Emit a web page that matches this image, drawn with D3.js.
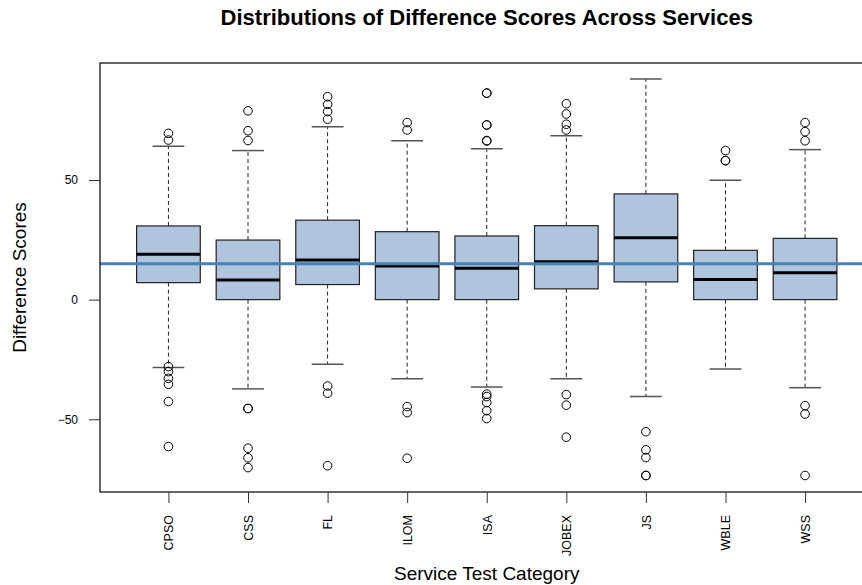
<!DOCTYPE html>
<html>
<head>
<meta charset="utf-8">
<script src="https://cdn.jsdelivr.net/npm/d3@7"></script>
<style>
  html, body { margin: 0; padding: 0; background: #fff; }
  svg { display: block; font-family: "Liberation Sans", Arial, Helvetica, sans-serif; }
</style>
</head>
<body>
<svg id="chart" width="862" height="585"></svg>
<script>
// ---- data ----
const categories = ["CPSO", "CSS", "FL", "ILOM", "ISA", "JOBEX", "JS", "WBLE", "WSS"];
const lowerWhisker = [-28.4, -37.3, -27.0, -33.1, -36.5, -33.1, -40.5, -29.0, -36.8];
const q1Values     = [7.1, 0, 6.3, 0, 0, 4.5, 7.4, 0, 0];
const medianValues = [19.0, 8.2, 16.6, 14.1, 13.1, 15.8, 25.9, 8.4, 11.2];
const q3Values     = [30.8, 24.9, 33.2, 28.4, 26.6, 30.9, 44.2, 20.6, 25.6];
const upperWhisker = [64.1, 62.3, 72.3, 66.4, 63.1, 68.5, 92.2, 49.9, 62.7];
const outlierValues = [
  [69.5, 66.7, -28.0, -30.1, -32.9, -35.4, -42.6, -61.4],
  [78.9, 70.6, 66.5, -45.5, -45.5, -62.1, -66.1, -70.2],
  [84.8, 81.6, 78.6, 75.4, -36.1, -39.1, -69.4],
  [74.0, 70.9, -44.7, -47.2, -66.3],
  [86.3, 86.3, 73.0, 73.0, 66.5, 66.3, -39.5, -40.5, -43.0, -46.4, -49.7],
  [81.9, 77.6, 73.3, 70.9, -39.7, -44.1, -57.5],
  [-55.2, -62.8, -66.0, -73.5, -73.5],
  [62.3, 58.1, 58.1],
  [74.0, 70.2, 66.4, -44.3, -47.8, -73.5]
];
const referenceLine = 15;
const yTickValues = [-50, 0, 50];
const titleText = "Distributions of Difference Scores Across Services";
const xTitle = "Service Test Category";
const yTitle = "Difference Scores";

// ---- layout ----
const svg = d3.select("#chart");
const plot = { left: 100, right: 873.5, top: 63, bottom: 492 };

const x = d3.scaleLinear().domain([0.14, categories.length + 0.86]).range([plot.left, plot.right]);
const y = d3.scaleLinear().domain([-80.4, 98.9]).range([plot.bottom, plot.top]);
const step = x(2) - x(1);
const boxW = step * 0.8;
const capW = boxW / 2;

const data = categories.map((c, i) => ({
  cat: c, i: i + 1,
  lo: lowerWhisker[i], q1: q1Values[i], med: medianValues[i], q3: q3Values[i], hi: upperWhisker[i],
  out: outlierValues[i]
}));

const g = svg.append("g");

// whiskers (dashed)
g.selectAll(".whisk-up").data(data).join("line")
  .attr("x1", d => x(d.i)).attr("x2", d => x(d.i))
  .attr("y1", d => y(d.q3)).attr("y2", d => y(d.hi))
  .attr("stroke", "#222").attr("stroke-width", 1).attr("stroke-dasharray", "4,3");
g.selectAll(".whisk-lo").data(data).join("line")
  .attr("x1", d => x(d.i)).attr("x2", d => x(d.i))
  .attr("y1", d => y(d.q1)).attr("y2", d => y(d.lo))
  .attr("stroke", "#222").attr("stroke-width", 1).attr("stroke-dasharray", "4,3");

// caps
["hi", "lo"].forEach(k => {
  g.selectAll(".cap-" + k).data(data).join("line")
    .attr("x1", d => x(d.i) - capW / 2).attr("x2", d => x(d.i) + capW / 2)
    .attr("y1", d => y(d[k])).attr("y2", d => y(d[k]))
    .attr("stroke", "#555").attr("stroke-width", 1.5);
});

// boxes
g.selectAll(".box").data(data).join("rect")
  .attr("x", d => x(d.i) - boxW / 2)
  .attr("width", boxW)
  .attr("y", d => y(d.q3))
  .attr("height", d => y(d.q1) - y(d.q3))
  .attr("fill", "#B0C4DE")
  .attr("stroke", "#222").attr("stroke-width", 1.2);

// medians
g.selectAll(".med").data(data).join("line")
  .attr("x1", d => x(d.i) - boxW / 2).attr("x2", d => x(d.i) + boxW / 2)
  .attr("y1", d => y(d.med)).attr("y2", d => y(d.med))
  .attr("stroke", "#000").attr("stroke-width", 3);

// outliers
data.forEach(d => {
  g.selectAll(null).data(d.out).join("circle")
    .attr("cx", x(d.i)).attr("cy", v => y(v))
    .attr("r", 4.3)
    .attr("fill", "none").attr("stroke", "#000").attr("stroke-width", 1);
});

// reference line
svg.append("line")
  .attr("x1", plot.left).attr("x2", plot.right)
  .attr("y1", y(referenceLine)).attr("y2", y(referenceLine))
  .attr("stroke", "#4682B4").attr("stroke-width", 3);

// frame
svg.append("rect")
  .attr("x", plot.left).attr("y", plot.top)
  .attr("width", plot.right - plot.left).attr("height", plot.bottom - plot.top)
  .attr("fill", "none").attr("stroke", "#000").attr("stroke-width", 1.2);

// y axis
const yAxis = d3.axisLeft(y).tickValues(yTickValues).tickSize(11).tickPadding(11);
const ya = svg.append("g").attr("transform", `translate(${plot.left},0)`).call(yAxis);
ya.select(".domain").remove();
ya.selectAll(".tick line").attr("stroke", "#333");
ya.selectAll(".tick text").attr("font-size", 12).attr("fill", "#000")
  .attr("font-family", "Liberation Sans, Arial, sans-serif");

// x axis
const xAxis = d3.axisBottom(x).tickValues(d3.range(1, categories.length + 1))
  .tickFormat(i => categories[i - 1]).tickSize(11).tickPadding(11);
const xa = svg.append("g").attr("transform", `translate(0,${plot.bottom})`).call(xAxis);
xa.select(".domain").remove();
xa.selectAll(".tick line").attr("stroke", "#333");
xa.selectAll(".tick text")
  .attr("font-size", 12.5).attr("fill", "#000")
  .attr("font-family", "Liberation Sans, Arial, sans-serif")
  .attr("transform", "rotate(-90)")
  .attr("text-anchor", "end")
  .attr("x", -23).attr("y", 0).attr("dy", "0.35em");

// titles
svg.append("text").attr("x", (plot.left + plot.right) / 2).attr("y", 25)
  .attr("text-anchor", "middle").attr("font-size", 22).attr("font-weight", "bold")
  .text(titleText);
svg.append("text").attr("x", (plot.left + plot.right) / 2).attr("y", 580)
  .attr("text-anchor", "middle").attr("font-size", 19)
  .text(xTitle);
svg.append("text")
  .attr("transform", `translate(26,${(plot.top + plot.bottom) / 2}) rotate(-90)`)
  .attr("text-anchor", "middle").attr("font-size", 19)
  .text(yTitle);
</script>
</body>
</html>
